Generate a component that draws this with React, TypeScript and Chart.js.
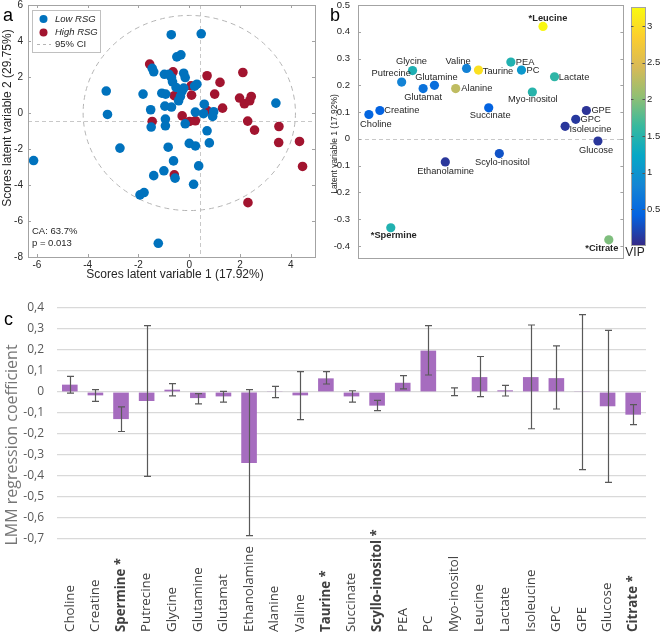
import React, { useEffect, useRef } from 'react';
import { Chart, registerables } from 'chart.js';
Chart.register(...registerables);

// ---------------- Panel a : PLS-DA scores ----------------
const lowRsgX = [-6.13, -3.27, -3.22, -2.73, -1.82, -1.52, -1.5, -1.46, -1.4, -1.4, -1.94, -1.78, -1.22, -1.08, -0.93, -0.98, -0.96, -0.94, -0.94, -1.0, -0.83, -0.71, -0.8, -0.7, -0.7, -0.66, -0.62, -0.56, -0.52, -0.49, -0.33, -0.42, -0.35, -0.29, -0.22, -0.22, -0.16, -0.16, 0.0, 0.21, 0.24, 0.24, 0.3, 0.17, 0.37, 0.47, 0.56, 0.59, 0.7, 0.79, 0.96, 0.92, 3.41];
const lowRsgY = [-2.64, 1.22, -0.08, -1.95, 1.05, 0.18, -0.78, 2.48, 2.29, -3.48, -4.55, -4.42, -7.24, 1.1, 1.05, 2.15, 0.38, -0.34, -0.71, -3.21, -1.9, 4.35, 2.15, 0.33, 1.96, 1.73, -2.66, -3.62, 1.42, 3.12, 3.23, 0.68, 0.92, 1.2, 1.38, 2.21, 1.97, -0.6, -1.69, 1.49, 0.05, -1.83, 1.6, -3.96, -2.94, 4.4, -0.04, 0.49, -0.99, -1.66, 0.07, -0.19, 0.55];
const highRsgX = [-1.56, -1.46, -0.64, -0.59, -0.59, -0.28, 0.07, 0.09, 0.01, 0.24, 0.7, 0.7, 1.0, 1.21, 1.31, 2.11, 1.98, 2.17, 2.38, 2.44, 2.3, 2.57, 2.31, 3.53, 3.52, 4.34, 4.46];
const highRsgY = [2.72, -0.47, 2.29, 0.96, -3.44, -0.16, 1.51, 0.99, -0.47, -0.43, 2.07, 0.14, 1.05, 1.7, 0.27, 2.25, 0.83, 0.51, 0.68, 0.92, -0.45, -0.95, -4.98, -0.75, -1.64, -1.58, -2.97];
const scoreXTicks = [-6, -4, -2, 0, 2, 4];
const scoreYTicks = [-8, -6, -4, -2, 0, 2, 4, 6];
const ciCenterX = 0;
const ciCenterY = 0;
const ciRadiusX = 4.18;
const ciRadiusY = 5.42;
const refLineX = 0.43;
const refLineY = -0.43;

// ---------------- Panel b : loadings ----------------
const metabolites = ['Leucine', 'Glycine', 'Putrecine', 'Glutamat', 'Glutamine', 'Valine', 'Taurine', 'Alanine', 'PEA', 'PC', 'Lactate', 'Myo-inositol', 'Creatine', 'Choline', 'Succinate', 'GPE', 'GPC', 'Isoleucine', 'Glucose', 'Scylo-inositol', 'Ethanolamine', 'Spermine', 'Citrate'];
const starred = ['Leucine', 'Spermine', 'Citrate'];
const loadingLV2 = [0.394, -0.589, -0.671, -0.509, -0.424, -0.182, -0.092, -0.264, 0.152, 0.232, 0.481, 0.314, -0.835, -0.918, -0.015, 0.721, 0.641, 0.561, 0.808, 0.065, -0.342, -0.753, 0.89];
const loadingLV1 = [0.42, 0.255, 0.212, 0.188, 0.2, 0.263, 0.257, 0.188, 0.287, 0.257, 0.232, 0.175, 0.106, 0.091, 0.116, 0.106, 0.073, 0.047, -0.008, -0.055, -0.086, -0.332, -0.377];
const vipScores = [3.22, 1.42, 0.8, 0.6, 0.55, 0.78, 3.02, 2.3, 1.45, 1.05, 1.55, 1.5, 0.42, 0.45, 0.42, 0.08, 0.12, 0.1, 0.1, 0.3, 0.1, 1.45, 1.95];
const loadingYTicks = [0.5, 0.4, 0.3, 0.2, 0.1, 0, -0.1, -0.2, -0.3, -0.4];
const vipMin = 0.01;
const vipMax = 3.26;
const vipTicks = [0.5, 1, 1.5, 2, 2.5, 3];

// ---------------- Panel c : LMM coefficients ----------------
const categories = ['Choline', 'Creatine', 'Spermine *', 'Putrecine', 'Glycine', 'Glutamine', 'Glutamat', 'Ethanolamine', 'Alanine', 'Valine', 'Taurine *', 'Succinate', 'Scyllo-inositol *', 'PEA', 'PC', 'Myo-inositol', 'Leucine', 'Lactate', 'Isoleucine', 'GPC', 'GPE', 'Glucose', 'Citrate *'];
const boldCategories = ['Spermine *', 'Taurine *', 'Scyllo-inositol *', 'Citrate *'];
const coefficients = [0.035, -0.016, -0.129, -0.043, 0.011, -0.029, -0.021, -0.338, 0.002, -0.016, 0.065, -0.021, -0.065, 0.044, 0.197, 0.003, 0.071, 0.008, 0.071, 0.066, 0.002, -0.068, -0.108];
const ciLower = [-0.005, -0.045, -0.188, -0.402, -0.018, -0.057, -0.048, -0.684, -0.027, -0.132, 0.038, -0.048, -0.089, 0.015, 0.081, -0.017, -0.022, -0.019, -0.175, -0.081, -0.37, -0.43, -0.155];
const ciUpper = [0.074, 0.011, -0.071, 0.316, 0.04, -0.008, 0.003, 0.011, 0.027, 0.097, 0.097, 0.006, -0.04, 0.078, 0.316, 0.02, 0.169, 0.032, 0.319, 0.22, 0.368, 0.293, -0.06];
const coefTicks = [0.4, 0.3, 0.2, 0.1, 0, -0.1, -0.2, -0.3, -0.4, -0.5, -0.6, -0.7];

// ---------------- styles ----------------
const MATLAB_FONT = '"Liberation Sans", Arial, sans-serif';
const EXCEL_FONT = '"Open Sans", sans-serif';
const BLUE = '#0072BD';
const RED = '#A2142F';
const FRAME = '#a3a3a3';
const TEXT = '#262626';
const PARULA = [[53, 42, 135], [3, 99, 225], [20, 133, 212], [6, 167, 198], [56, 185, 158], [146, 191, 115], [217, 186, 86], [252, 206, 46], [249, 251, 14]];

function parula(t: number): string {
  const c = Math.max(0, Math.min(1, t)) * (PARULA.length - 1);
  const i = Math.min(PARULA.length - 2, Math.floor(c));
  const f = c - i;
  const a = PARULA[i], b = PARULA[i + 1];
  return `rgb(${Math.round(a[0] + (b[0] - a[0]) * f)},${Math.round(a[1] + (b[1] - a[1]) * f)},${Math.round(a[2] + (b[2] - a[2]) * f)})`;
}
const vipColor = (v: number) => parula((v - vipMin) / (vipMax - vipMin));

function drawText(ctx: CanvasRenderingContext2D, text: string, x: number, y: number, font: string, color: string, align: CanvasTextAlign = 'center', rotate = 0) {
  ctx.save();
  ctx.translate(x, y);
  if (rotate) ctx.rotate(rotate);
  ctx.font = font;
  ctx.fillStyle = color;
  ctx.textAlign = align;
  ctx.textBaseline = 'middle';
  ctx.fillText(text, 0, 0);
  ctx.restore();
}

const fitY = (w: number) => (s: any) => { s.width = w; s.paddingTop = 0; s.paddingBottom = 0; };
const fitX = (h: number) => (s: any) => { s.height = h; s.paddingLeft = 0; s.paddingRight = 0; };

function drawFrame(chart: any, xTicks: number[] | null, yTicks: number[]) {
  const { ctx, chartArea: ca, scales } = chart;
  ctx.save();
  ctx.strokeStyle = FRAME;
  ctx.lineWidth = 1;
  ctx.setLineDash([]);
  ctx.strokeRect(Math.round(ca.left) + 0.5, Math.round(ca.top) + 0.5, Math.round(ca.right - ca.left), Math.round(ca.bottom - ca.top));
  const L = 3;
  ctx.beginPath();
  yTicks.forEach((v) => {
    const p = Math.round(scales.y.getPixelForValue(v)) + 0.5;
    ctx.moveTo(ca.left, p); ctx.lineTo(ca.left + L, p);
    ctx.moveTo(ca.right, p); ctx.lineTo(ca.right - L, p);
  });
  if (xTicks) {
    xTicks.forEach((v) => {
      const p = Math.round(scales.x.getPixelForValue(v)) + 0.5;
      ctx.moveTo(p, ca.bottom); ctx.lineTo(p, ca.bottom - L);
      ctx.moveTo(p, ca.top); ctx.lineTo(p, ca.top + L);
    });
  }
  ctx.stroke();
  ctx.restore();
}

function ScoresChart() {
  const ref = useRef<HTMLCanvasElement>(null);
  useEffect(() => {
    const deco = {
      id: 'scoresDeco',
      beforeDatasetsDraw(chart: any) {
        const { ctx, chartArea: ca, scales: { x, y } } = chart;
        ctx.save();
        ctx.strokeStyle = '#c8c8c8';
        ctx.lineWidth = 1;
        ctx.setLineDash([4, 3]);
        const px = Math.round(x.getPixelForValue(refLineX)) + 0.5;
        const py = Math.round(y.getPixelForValue(refLineY)) + 0.5;
        ctx.beginPath();
        ctx.moveTo(px, ca.top); ctx.lineTo(px, ca.bottom);
        ctx.moveTo(ca.left, py); ctx.lineTo(ca.right, py);
        ctx.stroke();
        const cx = x.getPixelForValue(ciCenterX);
        const cy = y.getPixelForValue(ciCenterY);
        const rx = x.getPixelForValue(ciCenterX + ciRadiusX) - cx;
        const ry = cy - y.getPixelForValue(ciCenterY + ciRadiusY);
        ctx.strokeStyle = '#b5b5b5';
        ctx.setLineDash([5, 4]);
        ctx.beginPath();
        ctx.ellipse(cx, cy, rx, ry, 0, 0, Math.PI * 2);
        ctx.stroke();
        ctx.restore();
      },
      afterDatasetsDraw(chart: any) {
        const { ctx } = chart;
        drawFrame(chart, scoreXTicks, scoreYTicks);
        ctx.save();
        ctx.fillStyle = '#ffffff';
        ctx.strokeStyle = '#c0c0c0';
        ctx.lineWidth = 1;
        ctx.fillRect(32.5, 10.5, 68, 42);
        ctx.strokeRect(32.5, 10.5, 68, 42);
        ctx.fillStyle = BLUE;
        ctx.beginPath(); ctx.arc(43.5, 19, 4, 0, Math.PI * 2); ctx.fill();
        ctx.fillStyle = RED;
        ctx.beginPath(); ctx.arc(43.5, 32.5, 4, 0, Math.PI * 2); ctx.fill();
        ctx.strokeStyle = '#b5b5b5';
        ctx.setLineDash([3, 3]);
        ctx.beginPath(); ctx.moveTo(37, 44.5); ctx.lineTo(51, 44.5); ctx.stroke();
        ctx.restore();
        drawText(ctx, 'Low RSG', 55, 19, `italic 9.5px ${MATLAB_FONT}`, TEXT, 'left');
        drawText(ctx, 'High RSG', 55, 32.5, `italic 9.5px ${MATLAB_FONT}`, TEXT, 'left');
        drawText(ctx, '95% CI', 55, 44.5, `9.5px ${MATLAB_FONT}`, TEXT, 'left');
        drawText(ctx, 'CA: 63.7%', 32, 231, `9.5px ${MATLAB_FONT}`, TEXT, 'left');
        drawText(ctx, 'p = 0.013', 32, 243.5, `9.5px ${MATLAB_FONT}`, TEXT, 'left');
        drawText(ctx, 'Scores latent variable 1 (17.92%)', 175, 275, `12px ${MATLAB_FONT}`, TEXT);
        drawText(ctx, 'Scores latent variable 2 (29.75%)', 8, 118, `12px ${MATLAB_FONT}`, TEXT, 'center', -Math.PI / 2);
      },
    };
    const chart = new Chart(ref.current as HTMLCanvasElement, {
      type: 'scatter',
      data: {
        datasets: [
          { label: 'Low RSG', data: lowRsgX.map((x, i) => ({ x, y: lowRsgY[i] })), backgroundColor: BLUE, borderWidth: 0, pointRadius: 4.8 },
          { label: 'High RSG', data: highRsgX.map((x, i) => ({ x, y: highRsgY[i] })), backgroundColor: RED, borderWidth: 0, pointRadius: 4.8 },
        ],
      },
      options: {
        animation: false,
        responsive: false,
        layout: { padding: { top: 5, right: 15, left: 0, bottom: 0 } },
        plugins: { legend: { display: false }, tooltip: { enabled: false } },
        scales: {
          x: {
            type: 'linear', min: -6.35, max: 4.95,
            afterBuildTicks: (s: any) => { s.ticks = scoreXTicks.map((v) => ({ value: v })); },
            afterFit: fitX(35),
            grid: { display: false, drawTicks: false }, border: { display: false },
            ticks: { padding: 2, color: TEXT, font: { family: MATLAB_FONT, size: 10 }, maxRotation: 0 },
          },
          y: {
            type: 'linear', min: -8, max: 6,
            afterBuildTicks: (s: any) => { s.ticks = scoreYTicks.map((v) => ({ value: v })); },
            afterFit: fitY(28),
            grid: { display: false, drawTicks: false }, border: { display: false },
            ticks: { padding: 5, color: TEXT, font: { family: MATLAB_FONT, size: 10 } },
          },
        },
      },
      plugins: [deco],
    } as any);
    return () => chart.destroy();
  }, []);
  return <canvas ref={ref} width={330} height={292} style={{ position: 'absolute', left: 0, top: 0 }} />;
}

const labelPlacement: [string, number, number][] = [
  ['center', 5, -8], ['center', -1, -8.7], ['center', -10.5, -8.7], ['center', 0, 9.3], ['center', 2, -8.3],
  ['center', -8.5, -7.3], ['left', 4.3, 1.3], ['left', 5.7, 0.3], ['left', 5, 0], ['left', 5, 0.6],
  ['left', 4.3, 0.4], ['center', 0.5, 7.3], ['left', 4.3, 0], ['center', 7, 9.7], ['center', 1.5, 8],
  ['left', 5, -0.3], ['left', 4.7, 0.6], ['left', 4.3, 2.7], ['center', -1.8, 9], ['center', 3, 9.3],
  ['center', 0.3, 9.3], ['center', 3, 8], ['center', -7, 8.7],
];

function LoadingsChart() {
  const ref = useRef<HTMLCanvasElement>(null);
  useEffect(() => {
    const deco = {
      id: 'loadDeco',
      beforeDatasetsDraw(chart: any) {
        const { ctx, chartArea: ca, scales: { y } } = chart;
        ctx.save();
        ctx.strokeStyle = '#c8c8c8';
        ctx.lineWidth = 1;
        ctx.setLineDash([4, 3]);
        const py = Math.round(y.getPixelForValue(0)) + 0.5;
        ctx.beginPath(); ctx.moveTo(ca.left, py); ctx.lineTo(ca.right, py); ctx.stroke();
        ctx.restore();
      },
      afterDatasetsDraw(chart: any) {
        const { ctx } = chart;
        drawFrame(chart, null, loadingYTicks);
        const meta = chart.getDatasetMeta(0);
        metabolites.forEach((name, i) => {
          const el = meta.data[i];
          const [align, dx, dy] = labelPlacement[i];
          const star = starred.includes(name);
          drawText(ctx, star ? '*' + name : name, el.x + dx, el.y + dy, `${star ? 'bold ' : ''}9.3px ${MATLAB_FONT}`, TEXT, align as CanvasTextAlign);
        });
        drawText(ctx, 'Latent variable 1 (17.92%)', 4.5, 144, `8.5px ${MATLAB_FONT}`, TEXT, 'center', -Math.PI / 2);
      },
    };
    const chart = new Chart(ref.current as HTMLCanvasElement, {
      type: 'scatter',
      data: {
        datasets: [{
          label: 'Loadings',
          data: loadingLV2.map((x, i) => ({ x, y: loadingLV1[i] })),
          backgroundColor: vipScores.map(vipColor),
          borderWidth: 0,
          pointRadius: 4.6,
        }],
      },
      options: {
        animation: false,
        responsive: false,
        layout: { padding: { top: 5, right: 3, left: 0, bottom: 0 } },
        plugins: { legend: { display: false }, tooltip: { enabled: false } },
        scales: {
          x: {
            type: 'linear', min: -1, max: 1,
            afterFit: fitX(34),
            grid: { display: false, drawTicks: false }, border: { display: false },
            ticks: { display: false },
          },
          y: {
            type: 'linear', min: -0.445, max: 0.5,
            afterBuildTicks: (s: any) => { s.ticks = loadingYTicks.map((v) => ({ value: v })); },
            afterFit: fitY(28),
            grid: { display: false, drawTicks: false }, border: { display: false },
            ticks: { padding: 8, color: TEXT, font: { family: MATLAB_FONT, size: 9.5 }, callback: (v: any) => String(v) },
          },
        },
      },
      plugins: [deco],
    } as any);
    return () => chart.destroy();
  }, []);
  return <canvas ref={ref} width={298} height={292} style={{ position: 'absolute', left: 330, top: 0 }} />;
}

function ColorbarChart() {
  const ref = useRef<HTMLCanvasElement>(null);
  useEffect(() => {
    const deco = {
      id: 'cbar',
      beforeDatasetsDraw(chart: any) {
        const { ctx, chartArea: ca, scales: { y } } = chart;
        const g = ctx.createLinearGradient(0, y.getPixelForValue(vipMin), 0, y.getPixelForValue(vipMax));
        PARULA.forEach((c, i) => g.addColorStop(i / (PARULA.length - 1), `rgb(${c[0]},${c[1]},${c[2]})`));
        ctx.save();
        ctx.fillStyle = g;
        ctx.fillRect(ca.left, ca.top, ca.right - ca.left, ca.bottom - ca.top);
        ctx.strokeStyle = FRAME;
        ctx.lineWidth = 1;
        ctx.strokeRect(Math.round(ca.left) + 0.5, Math.round(ca.top) + 0.5, Math.round(ca.right - ca.left), Math.round(ca.bottom - ca.top));
        ctx.strokeStyle = '#555';
        ctx.beginPath();
        vipTicks.forEach((v) => {
          const p = Math.round(y.getPixelForValue(v)) + 0.5;
          ctx.moveTo(ca.right, p); ctx.lineTo(ca.right - 2.5, p);
          ctx.moveTo(ca.left, p); ctx.lineTo(ca.left + 2.5, p);
        });
        ctx.stroke();
        ctx.restore();
        drawText(ctx, 'VIP', ca.left + 4, 253, `12px ${MATLAB_FONT}`, TEXT);
      },
    };
    const chart = new Chart(ref.current as HTMLCanvasElement, {
      type: 'scatter',
      data: { datasets: [{ data: [], pointRadius: 0 }] },
      options: {
        animation: false,
        responsive: false,
        layout: { padding: { top: 7, left: 13, right: 0, bottom: 17 } },
        plugins: { legend: { display: false }, tooltip: { enabled: false } },
        scales: {
          x: { display: false, min: 0, max: 1 },
          y: {
            type: 'linear', position: 'right', min: vipMin, max: vipMax,
            afterBuildTicks: (s: any) => { s.ticks = vipTicks.map((v) => ({ value: v })); },
            afterFit: fitY(15),
            grid: { display: false, drawTicks: false }, border: { display: false },
            ticks: { padding: 2, color: TEXT, font: { family: MATLAB_FONT, size: 9.5 }, callback: (v: any) => String(v) },
          },
        },
      },
      plugins: [deco],
    } as any);
    return () => chart.destroy();
  }, []);
  return <canvas ref={ref} width={42} height={262} style={{ position: 'absolute', left: 618, top: 0 }} />;
}

function CoefficientChart() {
  const ref = useRef<HTMLCanvasElement>(null);
  useEffect(() => {
    const deco = {
      id: 'coefDeco',
      afterDatasetsDraw(chart: any) {
        const { ctx, scales: { x, y } } = chart;
        ctx.save();
        ctx.strokeStyle = '#595959';
        ctx.lineWidth = 1.2;
        ctx.beginPath();
        categories.forEach((_, i) => {
          const px = Math.round(x.getPixelForValue(i)) + 0.5;
          const top = y.getPixelForValue(ciUpper[i]);
          const bot = y.getPixelForValue(ciLower[i]);
          ctx.moveTo(px, top); ctx.lineTo(px, bot);
          ctx.moveTo(px - 3.5, top); ctx.lineTo(px + 3.5, top);
          ctx.moveTo(px - 3.5, bot); ctx.lineTo(px + 3.5, bot);
        });
        ctx.stroke();
        ctx.restore();
      },
      afterDraw(chart: any) {
        const { ctx, scales: { x } } = chart;
        categories.forEach((c, i) => {
          const bold = boldCategories.includes(c);
          drawText(ctx, c, x.getPixelForValue(i), 337, `${bold ? '700' : '400'} 13.3px ${EXCEL_FONT}`, '#404040', 'left', -Math.PI / 2);
        });
        drawText(ctx, 'LMM regression coefficient', 12, 150, `16px ${EXCEL_FONT}`, '#767676', 'center', -Math.PI / 2);
      },
    };
    const chart = new Chart(ref.current as HTMLCanvasElement, {
      type: 'bar',
      data: {
        labels: categories,
        datasets: [{ data: coefficients, backgroundColor: '#a66cbf', borderWidth: 0, barPercentage: 0.61, categoryPercentage: 1 }],
      },
      options: {
        animation: false,
        responsive: false,
        layout: { padding: { top: 13, right: 14, left: 0, bottom: 0 } },
        plugins: { legend: { display: false }, tooltip: { enabled: false } },
        scales: {
          x: {
            afterFit: fitX(96),
            grid: { display: false, drawTicks: false }, border: { display: false },
            ticks: { display: false },
          },
          y: {
            type: 'linear', min: -0.7, max: 0.4,
            afterBuildTicks: (s: any) => { s.ticks = coefTicks.map((v) => ({ value: v })); },
            afterFit: fitY(57),
            grid: { color: '#d9d9d9', lineWidth: 1.2, drawTicks: false }, border: { display: false },
            ticks: {
              padding: 13, color: '#595959', font: { family: EXCEL_FONT, size: 12 },
              callback: (v: any) => (v === 0 ? '0' : Number(v).toFixed(1).replace('.', ',')),
            },
          },
        },
      },
      plugins: [deco],
    } as any);
    return () => chart.destroy();
  }, []);
  return <canvas ref={ref} width={660} height={340} style={{ position: 'absolute', left: 0, top: 295 }} />;
}

const letterStyle: React.CSSProperties = { position: 'absolute', font: `18px ${MATLAB_FONT}`, lineHeight: '18px', color: '#000' };

export default function App() {
  return (
    <div style={{ position: 'absolute', left: 0, top: 0, width: 660, height: 635, background: '#fff', overflow: 'hidden' }}>
      <ScoresChart />
      <LoadingsChart />
      <ColorbarChart />
      <CoefficientChart />
      <div style={{ ...letterStyle, left: 3, top: 6 }}>a</div>
      <div style={{ ...letterStyle, left: 330, top: 6 }}>b</div>
      <div style={{ ...letterStyle, left: 4, top: 310 }}>c</div>
    </div>
  );
}
